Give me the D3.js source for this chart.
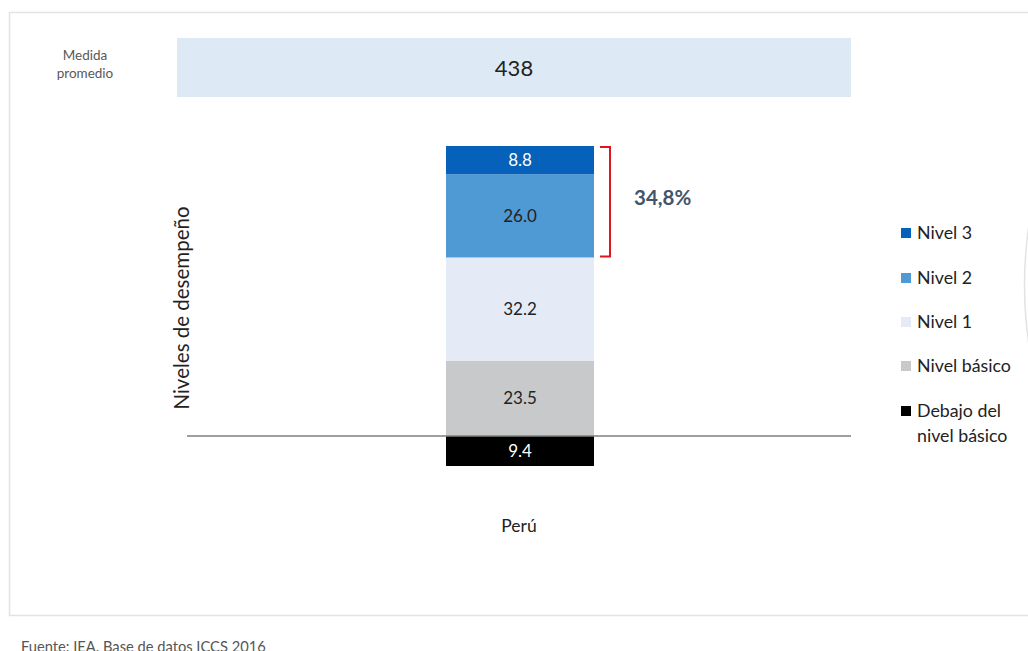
<!DOCTYPE html>
<html><head><meta charset="utf-8">
<script src="https://cdn.jsdelivr.net/npm/d3@7"></script>
<style>body{margin:0;background:#fff;}svg{display:block;font-family:Lato,"Open Sans",sans-serif;}</style>
</head><body>
<svg id="c" width="1028" height="651"></svg>
<script>
const categories = ["Perú"];
const levels = ["Debajo del nivel básico","Nivel básico","Nivel 1","Nivel 2","Nivel 3"];
const values = [9.4, 23.5, 32.2, 26.0, 8.8];
const colors = ["#000000","#c8c9cb","#e4ebf7","#4f9ad5","#0561b9"];
const labelColors = ["#ffffff","#222222","#222222","#222222","#ffffff"];
const legendLabels = [["Nivel 3"],["Nivel 2"],["Nivel 1"],["Nivel básico"],["Debajo del","nivel básico"]];
const legendColors = ["#0561b9","#4f9ad5","#e4ebf7","#c8c9cb","#000000"];
const meanScore = 438;
const highShare = "34,8%";

const svg = d3.select("#c");
// frame
svg.append("rect").attr("x",9.5).attr("y",12.5).attr("width",1030).attr("height",603)
  .attr("fill","none").attr("stroke","#e3e3e3").attr("stroke-width",1.5);
// partial arc at right edge
svg.append("path").attr("d","M1031,212 Q1018,285 1031,358").attr("fill","none").attr("stroke","#e3e3e3").attr("stroke-width",1.5);

// scales
const y = d3.scaleLinear().domain([-9.4, 90.5]).range([466, 146]);
const x = d3.scaleBand().domain(categories).range([446,594]);

// mean bar
svg.append("rect").attr("x",177).attr("y",38).attr("width",674).attr("height",59).attr("fill","#dde9f5");
svg.append("text").attr("x",514).attr("y",76).attr("text-anchor","middle").attr("font-size",22).attr("fill","#222").text(meanScore);
svg.append("text").attr("x",85).attr("y",60).attr("text-anchor","middle").attr("font-size",13.5).attr("fill","#595959").text("Medida");
svg.append("text").attr("x",85).attr("y",78).attr("text-anchor","middle").attr("font-size",13.5).attr("fill","#595959").text("promedio");

// stacked segments: first below zero, then stack above
const segs = [];
segs.push({i:0, y0:-values[0], y1:0});
let acc = 0;
for (let i=1;i<values.length;i++){ segs.push({i, y0:acc, y1:acc+values[i]}); acc+=values[i]; }

const g = svg.append("g");
g.selectAll("rect").data(segs).join("rect")
  .attr("x", x("Perú")).attr("width", x.bandwidth())
  .attr("y", d=>y(d.y1)).attr("height", d=>y(d.y0)-y(d.y1))
  .attr("fill", d=>colors[d.i]);
g.selectAll("text").data(segs).join("text")
  .attr("x", x("Perú")+x.bandwidth()/2).attr("y", d=>(y(d.y0)+y(d.y1))/2+6)
  .attr("text-anchor","middle").attr("font-size",17).attr("fill", d=>labelColors[d.i])
  .text(d=>values[d.i].toFixed(1));

// baseline
svg.append("line").attr("x1",187).attr("x2",851).attr("y1",y(0)).attr("y2",y(0)).attr("stroke","#7f7f7f").attr("stroke-width",1.5);

// category label
svg.append("text").attr("x",519).attr("y",532).attr("text-anchor","middle").attr("font-size",17.5).attr("fill","#222").text(categories[0]);

// y label
svg.append("text").attr("transform","translate(189,308) rotate(-90)").attr("text-anchor","middle").attr("font-size",20.5).attr("fill","#222").text("Niveles de desempeño");

// bracket
const top3 = y(acc), bot3 = y(acc - values[4] - values[3]);
svg.append("path").attr("d",`M600,${top3+1} H610 V${bot3-1} H600`).attr("fill","none").attr("stroke","#e0161e").attr("stroke-width",2);
svg.append("text").attr("x",634).attr("y",205).attr("font-size",20.5).attr("font-weight","bold").attr("fill","#44546a").text(highShare);

// legend
const ly = [233,278,322,366,411];
const lg = svg.append("g");
legendLabels.forEach((lab,k)=>{
  lg.append("rect").attr("x",901).attr("y",ly[k]-5).attr("width",10).attr("height",10).attr("fill",legendColors[k]);
  lab.forEach((t,j)=>{
    lg.append("text").attr("x",917).attr("y",ly[k]+6+j*25).attr("font-size",17.8).attr("fill","#222").text(t);
  });
});

// footer
svg.append("text").attr("x",21).attr("y",652).attr("font-size",14.7).attr("fill","#555").text("Fuente: IEA. Base de datos ICCS 2016");
</script>
</body></html>
